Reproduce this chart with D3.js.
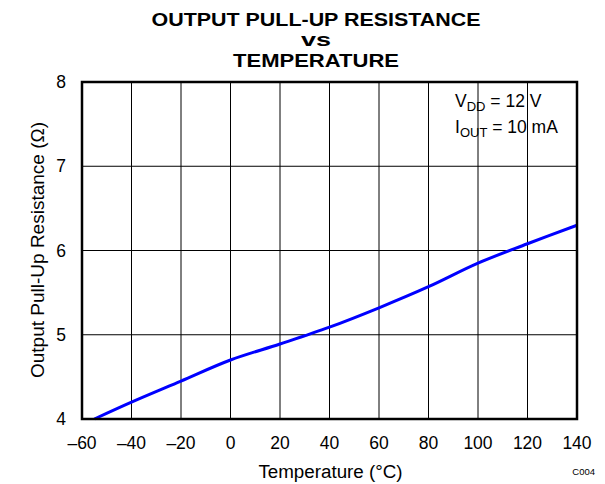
<!DOCTYPE html>
<html>
<head>
<meta charset="utf-8">
<script src="https://cdn.jsdelivr.net/npm/d3@7"></script>
<style>
  body { margin: 0; background: #fff; }
  text { font-family: "Liberation Sans", Arial, sans-serif; fill: #000; }
</style>
</head>
<body>
<script>
// Data
var temps = [-55, -40, -20, 0, 20, 40, 60, 80, 100, 120, 140];
var resistance = [4.0, 4.2, 4.45, 4.70, 4.89, 5.09, 5.32, 5.57, 5.85, 6.08, 6.30];
var xTicks = [-60, -40, -20, 0, 20, 40, 60, 80, 100, 120, 140];
var yTicks = [4, 5, 6, 7, 8];
var titleLines = ["OUTPUT PULL-UP RESISTANCE", "vs", "TEMPERATURE"];
var titleWidths = [329, 30, 166];

var margin = {top: 82, right: 28, bottom: 65, left: 82},
    width = 605 - margin.left - margin.right,
    height = 484 - margin.top - margin.bottom;

var svg = d3.select("body").append("svg")
    .attr("width", 605)
    .attr("height", 484);

var g = svg.append("g")
    .attr("transform", "translate(" + margin.left + "," + margin.top + ")");

var x = d3.scaleLinear().domain([-60, 140]).range([0, width]);
var y = d3.scaleLinear().domain([4, 8]).range([height, 0]);

// grid lines
g.selectAll(".vgrid")
    .data(xTicks.slice(1, -1))
    .enter().append("line")
    .attr("x1", d => x(d)).attr("x2", d => x(d))
    .attr("y1", 0).attr("y2", height)
    .attr("stroke", "#000").attr("stroke-width", 1);

g.selectAll(".hgrid")
    .data(yTicks.slice(1, -1))
    .enter().append("line")
    .attr("x1", 0).attr("x2", width)
    .attr("y1", d => y(d)).attr("y2", d => y(d))
    .attr("stroke", "#000").attr("stroke-width", 1);

// tick labels
var fmt = d => (d < 0 ? "\u2013" + Math.abs(d) : String(d));

g.selectAll(".xlab")
    .data(xTicks)
    .enter().append("text")
    .attr("x", d => x(d))
    .attr("y", height + 30)
    .attr("text-anchor", "middle")
    .style("font-size", "17.5px")
    .text(fmt);

g.selectAll(".ylab")
    .data(yTicks)
    .enter().append("text")
    .attr("x", -16)
    .attr("y", d => y(d) + 6)
    .attr("text-anchor", "end")
    .style("font-size", "17.5px")
    .text(d => d);

// curve
var line = d3.line()
    .x((d, i) => x(temps[i]))
    .y(d => y(d))
    .curve(d3.curveCatmullRom);

g.append("path")
    .datum(resistance)
    .attr("d", line)
    .attr("fill", "none")
    .attr("stroke", "#0000ff")
    .attr("stroke-width", 3);

// frame
g.append("rect")
    .attr("width", width).attr("height", height)
    .attr("fill", "none")
    .attr("stroke", "#000")
    .attr("stroke-width", 2.5);

// title (stretched a little to match the wide original lettering)
svg.selectAll(".title")
    .data(titleLines)
    .enter().append("text")
    .attr("x", 316)
    .attr("y", (d, i) => 26 + i * 20.3)
    .attr("text-anchor", "middle")
    .attr("textLength", (d, i) => titleWidths[i])
    .attr("lengthAdjust", "spacingAndGlyphs")
    .style("font-size", "19px")
    .style("font-weight", "bold")
    .text(d => d);

// axis titles
svg.append("text")
    .attr("x", 330.5)
    .attr("y", 477.5)
    .attr("text-anchor", "middle")
    .style("font-size", "18.8px")
    .text("Temperature (\u00b0C)");

svg.append("text")
    .attr("transform", "translate(44,250) rotate(-90)")
    .attr("text-anchor", "middle")
    .style("font-size", "19px")
    .text("Output Pull-Up Resistance (\u03a9)");

// conditions
var cond = svg.append("g");
var t1 = cond.append("text").attr("x", 455).attr("y", 107).style("font-size", "17.5px");
t1.append("tspan").text("V");
t1.append("tspan").attr("dy", 4).style("font-size", "13px").text("DD");
t1.append("tspan").attr("dy", -4).text(" = 12 V");

var t2 = cond.append("text").attr("x", 455).attr("y", 133).style("font-size", "17.5px");
t2.append("tspan").text("I");
t2.append("tspan").attr("dy", 4).style("font-size", "13px").text("OUT");
t2.append("tspan").attr("dy", -4).text(" = 10 mA");

svg.append("text")
    .attr("x", 595).attr("y", 475)
    .attr("text-anchor", "end")
    .style("font-size", "9.5px")
    .text("C004");
</script>
</body>
</html>
